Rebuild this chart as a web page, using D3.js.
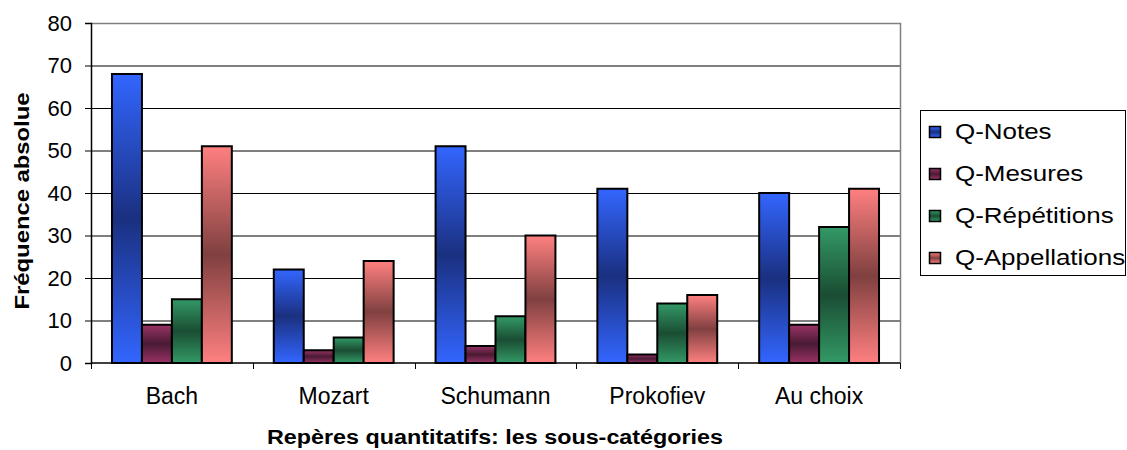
<!DOCTYPE html>
<html>
<head>
<meta charset="utf-8">
<script src="https://cdn.jsdelivr.net/npm/d3@7"></script>
<style>
  html, body { margin: 0; padding: 0; background: #fff; }
  svg { display: block; font-family: Arial, "Liberation Sans", sans-serif; }
</style>
</head>
<body>
<svg id="chart" width="1127" height="450"></svg>
<script>
// Sub-categories and series
const categories = ["Bach", "Mozart", "Schumann", "Prokofiev", "Au choix"];
const seriesNames = ["Q-Notes", "Q-Mesures", "Q-Répétitions", "Q-Appellations"];
const qNotes = [68, 22, 51, 41, 40];
const qMesures = [9, 3, 4, 2, 9];
const qRepetitions = [15, 6, 11, 14, 32];
const qAppellations = [51, 24, 30, 16, 41];
const yTicks = [0, 10, 20, 30, 40, 50, 60, 70, 80];

const seriesValues = [qNotes, qMesures, qRepetitions, qAppellations];
// light (top/bottom) and dark (middle) tones of each series
const seriesColors = [
  { light: "#3366ff", dark: "#1a3080" },
  { light: "#993366", dark: "#4a1a33" },
  { light: "#339966", dark: "#1a4d33" },
  { light: "#ff8080", dark: "#804040" }
];

const svg = d3.select("#chart");
const plot = { left: 91, right: 900, top: 23, bottom: 363 };

const x0 = d3.scaleBand().domain(categories).range([plot.left, plot.right]).paddingInner(0).paddingOuter(0);
const x1 = d3.scaleBand().domain(seriesNames).range([0, x0.bandwidth()]).paddingInner(0).paddingOuter(0.7);
const y = d3.scaleLinear().domain([0, 80]).range([plot.bottom, plot.top]);

// gradients
const defs = svg.append("defs");
seriesColors.forEach((c, i) => {
  const g = defs.append("linearGradient").attr("id", "grad" + i)
    .attr("x1", 0).attr("y1", 0).attr("x2", 0).attr("y2", 1);
  g.append("stop").attr("offset", "0%").attr("stop-color", c.light);
  g.append("stop").attr("offset", "50%").attr("stop-color", c.dark);
  g.append("stop").attr("offset", "100%").attr("stop-color", c.light);
});

// gridlines
svg.append("g").selectAll("line").data(yTicks.filter(t => t > 0 && t < 80)).join("line")
  .attr("x1", plot.left).attr("x2", plot.right)
  .attr("y1", d => y(d) + 0.5).attr("y2", d => y(d) + 0.5)
  .attr("stroke", "#000").attr("stroke-width", 1);

// plot frame (top and right)
svg.append("path")
  .attr("d", `M${plot.left},${plot.top + 0.5}H${plot.right + 0.5}V${plot.bottom}`)
  .attr("fill", "none").attr("stroke", "#808080").attr("stroke-width", 1.5);

// bars
const rows = categories.map((c, ci) => ({ cat: c, vals: seriesNames.map((s, si) => ({ s, si, v: seriesValues[si][ci] })) }));
svg.append("g").selectAll("g").data(rows).join("g")
  .attr("transform", d => `translate(${x0(d.cat)},0)`)
  .selectAll("rect").data(d => d.vals).join("rect")
  .attr("x", d => x1(d.s))
  .attr("y", d => y(d.v))
  .attr("width", x1.bandwidth())
  .attr("height", d => y(0) - y(d.v))
  .attr("fill", d => `url(#grad${d.si})`)
  .attr("stroke", "#000").attr("stroke-width", 2);

// y axis
const yAxis = d3.axisLeft(y).tickValues(yTicks).tickSize(6).tickPadding(13);
const gy = svg.append("g").attr("transform", `translate(${plot.left},0)`).call(yAxis);
gy.select(".domain").attr("stroke", "#000").attr("stroke-width", 1.5);
gy.selectAll(".tick line").attr("stroke", "#000");
gy.selectAll(".tick text").attr("font-size", 22).attr("fill", "#000")
  .attr("font-family", "Arial, 'Liberation Sans', sans-serif");

// x axis: baseline, ticks between categories, labels under each band
svg.append("line").attr("x1", plot.left).attr("x2", plot.right)
  .attr("y1", plot.bottom).attr("y2", plot.bottom)
  .attr("stroke", "#000").attr("stroke-width", 1.5);
const boundaries = categories.map(c => x0(c)).concat([x0(categories[categories.length - 1]) + x0.bandwidth()]);
svg.append("g").selectAll("line").data(boundaries).join("line")
  .attr("x1", d => Math.round(d) + 0.5).attr("x2", d => Math.round(d) + 0.5)
  .attr("y1", plot.bottom).attr("y2", plot.bottom + 6)
  .attr("stroke", "#000").attr("stroke-width", 1);
svg.append("g").selectAll("text").data(categories).join("text")
  .attr("x", d => x0(d) + x0.bandwidth() / 2)
  .attr("y", 404)
  .attr("text-anchor", "middle")
  .attr("font-size", 23)
  .text(d => d);

// axis titles (wide lettering)
svg.append("text")
  .attr("x", 495).attr("y", 444)
  .attr("text-anchor", "middle")
  .attr("font-size", 20).attr("font-weight", "bold")
  .attr("textLength", 456).attr("lengthAdjust", "spacingAndGlyphs")
  .text("Repères quantitatifs: les sous-catégories");
svg.append("text")
  .attr("transform", "translate(29,201) rotate(-90)")
  .attr("text-anchor", "middle")
  .attr("font-size", 21).attr("font-weight", "bold")
  .attr("textLength", 217).attr("lengthAdjust", "spacingAndGlyphs")
  .text("Fréquence absolue");

// legend
const legend = svg.append("g");
legend.append("rect")
  .attr("x", 920.5).attr("y", 110.5).attr("width", 205).attr("height", 165)
  .attr("fill", "#fff").attr("stroke", "#000").attr("stroke-width", 1);
const items = legend.selectAll("g.item").data(seriesNames).join("g").attr("class", "item")
  .attr("transform", (d, i) => `translate(0,${139 + i * 42})`);
items.append("rect")
  .attr("x", 929.5).attr("y", -12.5).attr("width", 11).attr("height", 11)
  .attr("fill", (d, i) => `url(#grad${i})`)
  .attr("stroke", "#000").attr("stroke-width", 1.5);
items.append("text")
  .attr("transform", "translate(955,0) scale(1.18,1)")
  .attr("font-size", 22)
  .text(d => d);
</script>
</body>
</html>
